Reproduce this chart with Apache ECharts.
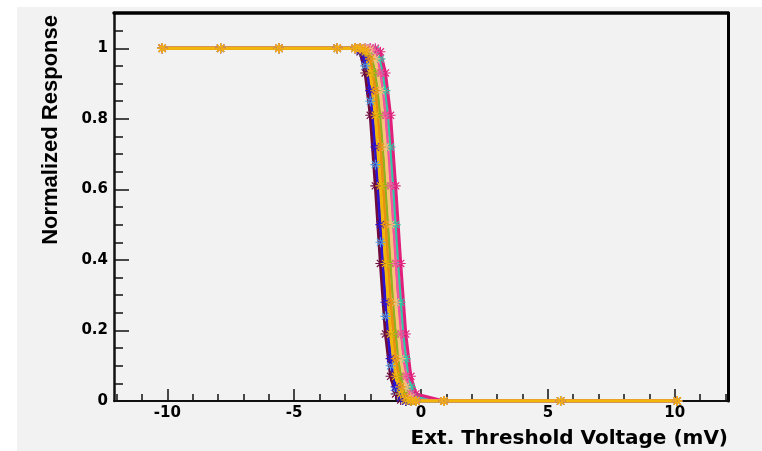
<!DOCTYPE html>
<html><head><meta charset="utf-8">
<script src="https://cdn.jsdelivr.net/npm/echarts@6/dist/echarts.min.js"></script>
<style>html,body{margin:0;padding:0;background:#fff}#c{width:762px;height:451px}</style>
</head><body><div id="c"></div>
<script>
// ---- data ----
const xValues = [-10.2,-7.9,-5.6,-3.3,-2.6,-2.4,-2.2,-2.0,-1.8,-1.6,-1.4,-1.2,-1.0,-0.8,-0.6,-0.4,-0.2,0.9,5.5,10.1];
const xTickMajor = [-10,-5,0,5,10];
const xTickMinor = [-12,-11,-9,-8,-7,-6,-4,-3,-2,-1,1,2,3,4,6,7,8,9,11,12];
const yTickMajor = [0,0.2,0.4,0.6,0.8,1];
const yTickMinor = [0.05,0.1,0.15,0.25,0.3,0.35,0.45,0.5,0.55,0.65,0.7,0.75,0.85,0.9,0.95,1.05];

const lightBlue = [1,1,1,1, 1.0,0.99,0.95,0.85,0.67,0.45,0.24,0.10,0.03,0.01,0,0,0, 0,0,0];
const maroon    = [1,1,1,1, 1.0,0.99,0.93,0.81,0.61,0.39,0.19,0.07,0.02,0.003,0,0,0, 0,0,0];
const blue      = [1,1,1,1, 1.0,0.995,0.97,0.88,0.72,0.50,0.28,0.12,0.04,0.01,0,0,0, 0,0,0];
const olive     = [1,1,1,1, 1,1,1.0,0.99,0.93,0.81,0.61,0.39,0.19,0.07,0.02,0.003,0, 0,0,0];
const teal      = [1,1,1,1, 1,1,1,1,0.995,0.97,0.88,0.72,0.50,0.28,0.12,0.04,0.01, 0,0,0];
const magenta   = [1,1,1,1, 1,1,1,1,1.0,0.99,0.93,0.81,0.61,0.39,0.19,0.07,0.02, 0,0,0];
const pink      = [1,1,1,1, 1,1,1,1.0,0.99,0.93,0.81,0.61,0.39,0.19,0.07,0.02,0.003, 0,0,0];
const peach     = [1,1,1,1, 1,1,1,0.995,0.97,0.88,0.72,0.50,0.28,0.12,0.04,0.01,0, 0,0,0];
const orange    = [1,1,1,1, 1,1,0.995,0.97,0.88,0.72,0.50,0.28,0.12,0.04,0.01,0,0, 0,0,0];
const gold      = [1,1,1,1, 1,1.0,0.99,0.93,0.81,0.61,0.39,0.19,0.07,0.02,0.003,0,0, 0,0,0];

const seriesDefs = [
  ['lightBlue', lightBlue, '#4fa3e6'],
  ['maroon', maroon, '#6e0a3c'],
  ['blue', blue, '#2c12d2'],
  ['olive', olive, '#8fb21e'],
  ['teal', teal, '#2fc9a6'],
  ['magenta', magenta, '#e0207c'],
  ['pink', pink, '#f2559f'],
  ['peach', peach, '#f8c27a'],
  ['orange', orange, '#e8900f'],
  ['gold', gold, '#f2b50a']
];

const star = 'path://M-0.11,-1 L0.11,-1 L0.11,1 L-0.11,1 Z M-1,-0.11 L1,-0.11 L1,0.11 L-1,0.11 Z M-0.79,-0.63 L0.63,0.79 L0.79,0.63 L-0.63,-0.79 Z M-0.63,0.79 L0.79,-0.63 L0.63,-0.79 L-0.79,0.63 Z';

const chart = echarts.init(document.getElementById('c'), null, {renderer: 'canvas'});
const lab = {fontFamily: 'DejaVu Sans', fontWeight: 'bold', fontSize: 15, color: '#000'};

chart.setOption({
  animation: false,
  backgroundColor: '#ffffff',
  graphic: [
    {type: 'rect', z: -100, shape: {x: 17, y: 7, width: 745, height: 444}, style: {fill: '#f2f2f2'}},
    {type: 'text', x: 728, y: 439, style: {text: 'Ext. Threshold Voltage (mV)', font: 'bold 20px "DejaVu Sans"', fill: '#000', textAlign: 'right', textVerticalAlign: 'middle'}},
    {type: 'text', x: 51, y: 15, rotation: Math.PI / 2, style: {text: 'Normalized Response', font: 'bold 22px "Liberation Sans"', fill: '#000', textAlign: 'right', textVerticalAlign: 'middle'}}
  ],
  grid: {left: 114, top: 13, right: 34, bottom: 50, show: false},
  xAxis: [
    {type: 'value', position: 'bottom', min: -12.1, max: 12.1,
     axisLine: {onZero: false, lineStyle: {color: '#111', width: 2}},
     axisTick: {inside: true, length: 12, customValues: xTickMajor, lineStyle: {color: '#111', width: 1.5}},
     axisLabel: Object.assign({customValues: xTickMajor, margin: 5}, lab),
     splitLine: {show: false}},
    {type: 'value', position: 'bottom', min: -12.1, max: 12.1,
     axisLine: {show: false, onZero: false},
     axisTick: {inside: true, length: 7, customValues: xTickMinor, lineStyle: {color: '#111', width: 1.5}},
     axisLabel: {show: false}, splitLine: {show: false}},
    {type: 'value', position: 'top', min: -12.1, max: 12.1,
     axisLine: {onZero: false, lineStyle: {color: '#000', width: 3.5}},
     axisTick: {show: false}, axisLabel: {show: false}, splitLine: {show: false}}
  ],
  yAxis: [
    {type: 'value', position: 'left', min: 0, max: 1.1,
     axisLine: {show: true, onZero: false, lineStyle: {color: '#111', width: 2.5}},
     axisTick: {show: true, inside: true, length: 15, customValues: yTickMajor, lineStyle: {color: '#111', width: 1.5}},
     axisLabel: Object.assign({customValues: yTickMajor, margin: 6}, lab),
     splitLine: {show: false}},
    {type: 'value', position: 'left', min: 0, max: 1.1,
     axisLine: {show: false, onZero: false},
     axisTick: {show: true, inside: true, length: 9, customValues: yTickMinor, lineStyle: {color: '#111', width: 1.5}},
     axisLabel: {show: false}, splitLine: {show: false}},
    {type: 'value', position: 'right', min: 0, max: 1.1,
     axisLine: {show: true, onZero: false, lineStyle: {color: '#000', width: 3}},
     axisTick: {show: false}, axisLabel: {show: false}, splitLine: {show: false}}
  ],
  series: seriesDefs.map(([name, ys, color]) => ({
    name, type: 'line', xAxisIndex: 0, yAxisIndex: 0,
    data: xValues.map((x, i) => [x, ys[i]]),
    symbol: star, symbolSize: 10, symbolKeepAspect: true,
    lineStyle: {color, width: 3},
    itemStyle: {color},
    showSymbol: true
  }))
});
</script></body></html>
